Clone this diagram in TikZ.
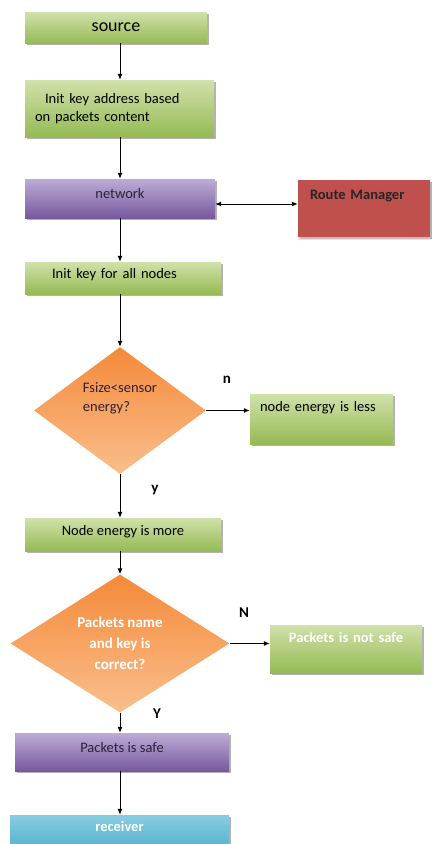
\documentclass[tikz,border=0pt]{standalone}
\usepackage{fontspec}
\setmainfont{Carlito}
\usepackage{xcolor}
\usepackage{tikz}
\usetikzlibrary{shapes.geometric, arrows.meta, positioning, shadows, calc}
\definecolor{greentop}{RGB}{208,225,170}
\definecolor{greenbot}{RGB}{150,186,84}
\definecolor{purpletop}{RGB}{190,172,214}
\definecolor{purplebot}{RGB}{118,88,158}
\definecolor{routecolor}{RGB}{192,80,77}
\definecolor{orangetop}{RGB}{244,138,58}
\definecolor{orangebot}{RGB}{250,190,140}
\definecolor{cyantop}{RGB}{135,205,225}
\definecolor{cyanbot}{RGB}{70,170,198}
\definecolor{darktext}{RGB}{45,32,55}

\begin{document}
\begin{tikzpicture}[x=1pt, y=-1pt,
        box/.style={rectangle, inner sep=0pt, font=\fontsize{14.5}{18}\selectfont,
            drop shadow={shadow xshift=2pt, shadow yshift=-2pt, fill=black!60}},
        greenbox/.style={box, top color=greentop, bottom color=greenbot, text=black},
        purplebox/.style={box, top color=purpletop, bottom color=purplebot, text=darktext},
        decision/.style={diamond, inner sep=0pt, top color=orangetop, bottom color=orangebot},
        answer/.style={font=\fontsize{15}{18}\selectfont\bfseries},
        arr/.style={-{Latex[length=6pt,width=5pt]}, line width=1pt}]
        \useasboundingbox (0,0) rectangle (432,844);
        \coordinate (spine) at (120,0);

        % Start of the flow
        \node[greenbox, minimum width=182pt, minimum height=31pt, font=\fontsize{18}{20}\selectfont] (source) at (116,27.5) {source};
        \node[greenbox, minimum width=189pt, minimum height=57pt, text width=169pt, inner xsep=10pt, align=left] (addr) at (119.5,108.5) {\hspace*{10pt}Init key address based\\on packets content};
        \node[purplebox, minimum width=190pt, minimum height=39pt, text height=19pt, text depth=20pt] (network) at (120,198.5) {network};
        \node[box, fill=routecolor, text=black!85, minimum width=132pt, minimum height=57pt, text width=108pt, inner xsep=12pt, align=left,
            text height=19pt, text depth=38pt, font=\fontsize{14.5}{18}\selectfont\bfseries,
            drop shadow={shadow xshift=0pt, shadow yshift=-3pt, fill=routecolor!35}] (route) at (364,208.5) {Route Manager};
        \node[greenbox, minimum width=196pt, minimum height=32pt, text width=142pt, inner xsep=27pt, align=left,
            text height=16pt, text depth=16pt] (keyall) at (123,278) {Init key for all nodes};

        % Energy check
        \node[decision, minimum width=172pt, minimum height=127pt,
            label={[yshift=12pt, align=left, text=darktext, font=\fontsize{14.5}{19}\selectfont]center:Fsize<sensor\\energy?}] (d1) at (120,410.5) {};
        \node[greenbox, minimum width=143pt, minimum height=50pt, text width=123pt, inner xsep=10pt, align=left,
            text height=17pt, text depth=33pt] (less) at (321.5,419) {node energy is less};
        \node[greenbox, minimum width=196pt, minimum height=33pt, text height=17pt, text depth=16pt] (more) at (123,534.5) {Node energy is more};

        % Packet check
        \node[decision, minimum width=219pt, minimum height=133pt, align=center, text=white,
            font=\fontsize{15}{21}\selectfont\bfseries] (d2) at (120,643.5) {Packets name\\and key is\\correct?};
        \node[greenbox, minimum width=152pt, minimum height=48pt, text width=152pt, align=center, text=white,
            text height=17pt, text depth=31pt, font=\fontsize{14.5}{18}\selectfont\bfseries] (notsafe) at (346,649) {Packets is not safe};
        \node[purplebox, minimum width=214pt, minimum height=38pt, text height=19pt, text depth=19pt] (safe) at (122,752) {Packets is safe};
        \node[box, top color=cyantop, bottom color=cyanbot, text=white, minimum width=219pt, minimum height=44pt,
            text height=16pt, text depth=28pt, font=\fontsize{14.5}{18}\selectfont\bfseries] (receiver) at (119.5,837) {receiver};

        % Answers
        \node[answer] (ansn) at (227,380) {n};
        \node[answer] (ansy) at (155,490) {y};
        \node[answer] (ansN) at (244,613) {N};
        \node[answer] (ansY) at (157,714) {Y};

        % Connectors
        \draw[arr] (source.south -| spine) -- (addr.north -| spine);
        \draw[arr] (addr.south -| spine) -- (network.north -| spine);
        \draw[{Latex[length=6pt,width=5pt]}-{Latex[length=6pt,width=5pt]}, line width=1pt] ([yshift=-5.5pt]network.east) -- ([yshift=-5.5pt]network.east -| route.west);
        \draw[arr] (network.south -| spine) -- (keyall.north -| spine);
        \draw[arr] (keyall.south -| spine) -- (d1.north);
        \draw[arr] (d1.east) -- (d1.east -| less.west);
        \draw[arr] (d1.south) -- (more.north -| spine);
        \draw[arr] (more.south -| spine) -- (d2.north);
        \draw[arr] (d2.east) -- (d2.east -| notsafe.west);
        \draw[arr] (d2.south) -- (safe.north -| spine);
        \draw[arr] (safe.south -| spine) -- (receiver.north -| spine);
\end{tikzpicture}
\end{document}
